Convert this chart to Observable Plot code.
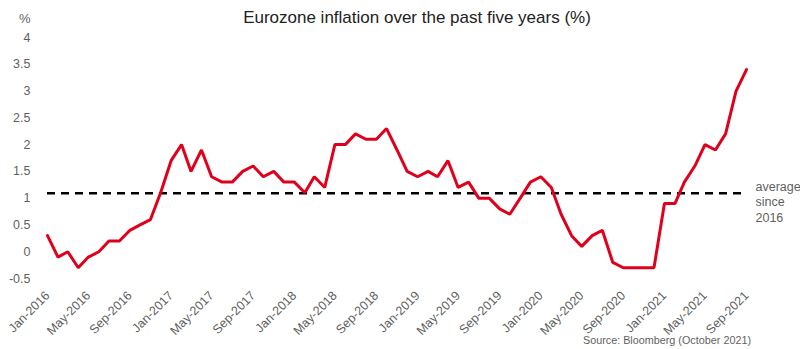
<!DOCTYPE html>
<html>
<head>
<meta charset="utf-8">
<script src="https://cdn.jsdelivr.net/npm/d3@7"></script>
<script src="https://cdn.jsdelivr.net/npm/@observablehq/plot@0.6"></script>
<style>
  html, body { margin: 0; padding: 0; background: #fff; }
  #wrap { position: relative; width: 800px; height: 349px; font-family: "Liberation Sans", Arial, sans-serif; }
  #title { position: absolute; left: 0; width: 834px; top: 8px; text-align: center; font-size: 17px; color: #222; }
  #unit { position: absolute; left: 19px; top: 11px; font-size: 13px; color: #5f5f5f; }
  #source { position: absolute; right: 49px; top: 334px; font-size: 10.8px; color: #5f5f5f; }
</style>
</head>
<body>
<div id="wrap">
  <div id="chart"></div>
  <div id="title">Eurozone inflation over the past five years (%)</div>
  <div id="unit">%</div>
  <div id="source">Source: Bloomberg (October 2021)</div>
</div>
<script>
// Monthly Eurozone inflation, Jan-2016 .. Sep-2021
const startYear = 2016;
const inflation = [
  0.3, -0.1, 0.0, -0.3, -0.1, 0.0, 0.2, 0.2, 0.4, 0.5, 0.6, 1.1,   // 2016
  1.7, 2.0, 1.5, 1.9, 1.4, 1.3, 1.3, 1.5, 1.6, 1.4, 1.5, 1.3,      // 2017
  1.3, 1.1, 1.4, 1.2, 2.0, 2.0, 2.2, 2.1, 2.1, 2.3, 1.9, 1.5,      // 2018
  1.4, 1.5, 1.4, 1.7, 1.2, 1.3, 1.0, 1.0, 0.8, 0.7, 1.0, 1.3,      // 2019
  1.4, 1.2, 0.7, 0.3, 0.1, 0.3, 0.4, -0.2, -0.3, -0.3, -0.3, -0.3, // 2020
  0.9, 0.9, 1.3, 1.6, 2.0, 1.9, 2.2, 3.0, 3.4                      // 2021
];
const averageSince2016 = 1.09;
const averageLabel = "average\nsince\n2016";
const yTicks = [-0.5, 0, 0.5, 1, 1.5, 2, 2.5, 3, 3.5, 4];

const data = inflation.map((v, i) => ({ date: new Date(Date.UTC(startYear, i, 1)), value: v }));
const first = data[0].date, last = data[data.length - 1].date;
const xTicks = d3.utcMonths(first, new Date(Date.UTC(2021, 9, 2)), 4);

const gray = "#5f5f5f";
const chart = Plot.plot({
  width: 800,
  height: 349,
  marginLeft: 47,
  marginRight: 54,
  marginTop: 37,
  marginBottom: 71,
  style: { fontFamily: "'Liberation Sans', Arial, sans-serif", fontSize: "12.5px", color: gray, background: "#fff" },
  x: { type: "utc", domain: [first, last] },
  y: { domain: [-0.5, 4] },
  marks: [
    Plot.axisY({ ticks: yTicks, tickSize: 0, tickPadding: 17, label: null, fill: gray, tickFormat: d => String(d) }),
    Plot.axisX({ ticks: xTicks, tickSize: 0, tickPadding: 15, tickRotate: -45, tickFormat: d3.utcFormat("%b-%Y"), label: null, fill: gray }),
    Plot.ruleY([averageSince2016], { x1: first, x2: last, stroke: "#000", strokeWidth: 2.5, strokeDasharray: "8,6" }),
    Plot.text([averageLabel], { x: last, y: averageSince2016, dx: 9, dy: 8, textAnchor: "start", lineAnchor: "middle", lineHeight: 1.24, fill: gray, fontSize: 12.5 }),
    Plot.line(data, { x: "date", y: "value", stroke: "#e0001b", strokeWidth: 3, strokeLinejoin: "miter" })
  ]
});
document.getElementById("chart").appendChild(chart);
</script>
</body>
</html>
